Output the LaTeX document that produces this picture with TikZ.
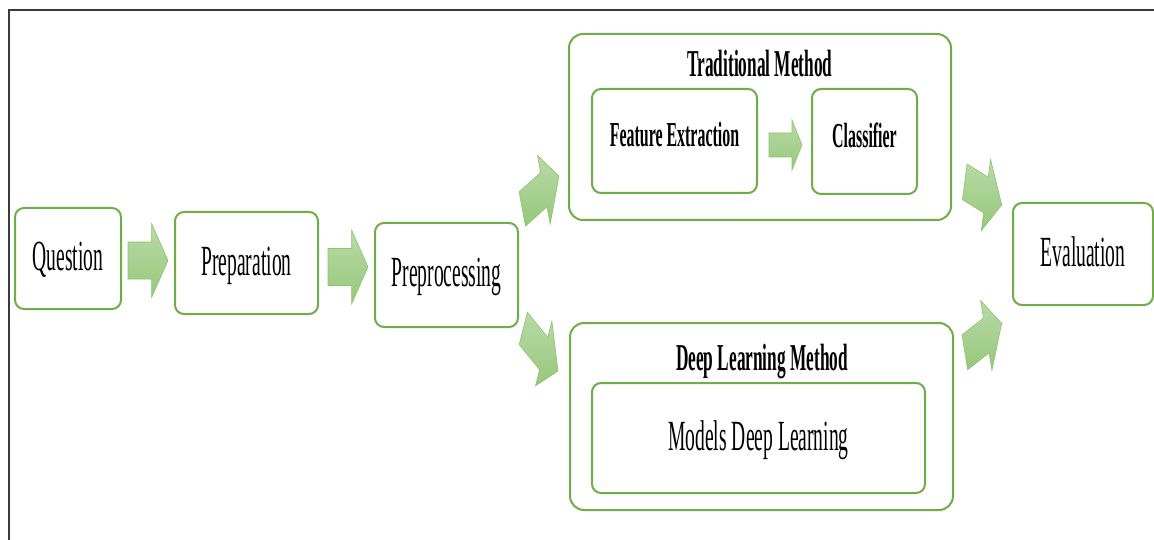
\documentclass[tikz,border=0pt]{standalone}
\usepackage{fontspec}
\setmainfont{Liberation Serif}[FakeStretch=0.455]
\usetikzlibrary{calc, positioning}
\definecolor{boxGreen}{HTML}{70AD47}
\definecolor{arrowLight}{HTML}{B9DBA6}
\definecolor{arrowDark}{HTML}{96C77C}
\definecolor{arrowEdge}{HTML}{8DC26F}
\definecolor{frameGrey}{HTML}{3A3A3A}
\tikzset{
    stageBox/.style={rectangle, rounded corners=9pt, draw=boxGreen, line width=2pt, fill=white, inner sep=0pt, font=\fontsize{43}{48}\selectfont, text height=30pt, text depth=6pt},
    methodBox/.style={stageBox, rounded corners=14pt},
    innerBox/.style={stageBox, font=\bfseries\fontsize{35}{40}\selectfont, text height=26pt, text depth=14pt},
    methodTitle/.style={anchor=base, inner sep=0pt, font=\bfseries\fontsize{38}{42}\selectfont},
    blockFill/.style={top color=arrowLight, bottom color=arrowDark, draw=arrowEdge, line width=0.6pt},
    frameLine/.style={draw=frameGrey, line width=1.2pt},
}
\newcommand{\squash}{0.455}
% block arrow: from, to, shaft half width, head half width, head length
\newcommand{\blockArrow}[5]{
    \path[blockFill] let \p1=(#1), \p2=(#2),
        \n1={atan2(\y2-\y1, (\x2-\x1)/\squash)}, \n2={veclen((\x2-\x1)/\squash, \y2-\y1)} in
        [shift={(\p1)}, xscale=\squash, rotate=\n1]
        (0,#3) -- ({\n2-#5},#3) -- ({\n2-#5},#4) -- ({\n2},0) -- ({\n2-#5},-#4) -- ({\n2-#5},-#3) -- (0,-#3) -- cycle;
}

\begin{document}
\begin{tikzpicture}[x=1pt, y=-1pt]
    \useasboundingbox (0,0) rectangle (1154,540);
    \draw[frameLine] (9,540) -- (9,10) -- (1154,10);

    \node[stageBox, minimum width=106pt, minimum height=101pt] (quest) at (68,258.5) {Question};
    \node[stageBox, minimum width=143pt, minimum height=102pt] (prep) at (246.5,263) {Preparation};
    \node[stageBox, minimum width=143pt, minimum height=104pt] (prepro) at (446.5,275) {Preprocessing};

    \node[methodBox, minimum width=382pt, minimum height=186pt] (trad) at (760,127) {};
    \node[methodTitle] (tradTitle) at (760,77) {Traditional Method};
    \node[innerBox, minimum width=165pt, minimum height=104pt] (feat) at (674.5,141) {Feature Extraction};
    \node[innerBox, minimum width=105pt, minimum height=105pt] (clf) at (864.5,141.5) {Classifier};

    \node[methodBox, minimum width=383pt, minimum height=187pt] (dl) at (761.5,416.5) {};
    \node[methodTitle] (dlTitle) at (762,370) {Deep Learning Method};
    \node[stageBox, minimum width=333pt, minimum height=110pt] (models) at (758.5,438) {Models Deep Learning};

    \node[stageBox, minimum width=140pt, minimum height=102pt] (eval) at (1083,254) {Evaluation};

    \blockArrow{$(quest.east)+(6,2)$}{$(prep.west)+(-6,-2.5)$}{18.5}{37}{36}
    \blockArrow{$(prep.east)+(9,4)$}{$(prepro.west)+(-6,-8)$}{18.5}{37}{36}
    \blockArrow{$(prepro.north east)+(3.3,-13)$}{$(trad.south west)+(-9,-45)$}{18.5}{37}{36}
    \blockArrow{$(prepro.south east)+(4.3,0.5)$}{$(dl.north west)+(-11,49)$}{18.5}{37}{36}
    \blockArrow{$(feat.east)+(11,4)$}{$(clf.west)+(-9,3.5)$}{12}{25}{22}
    \blockArrow{$(trad.south east)+(12.8,-39.2)$}{$(eval.west)+(-10.3,-49)$}{18.5}{37}{36}
    \blockArrow{$(dl.north east)+(10.8,30.3)$}{$(eval.west)+(-10.3,69.3)$}{18.5}{37}{36}

\end{tikzpicture}
\end{document}
